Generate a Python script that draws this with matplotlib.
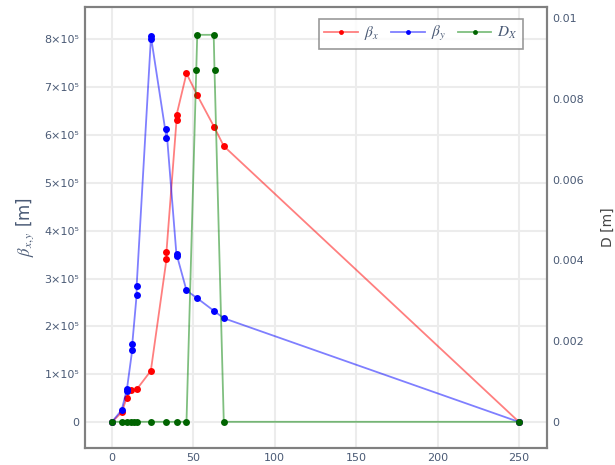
import matplotlib
matplotlib.use("Agg")
from matplotlib import pyplot as plt
from matplotlib.ticker import FuncFormatter

plt.rcParams['mathtext.fontset'] = 'stix'

# position along the line [m]
s_bx = [0, 6.0, 9.0, 12.0, 15.2, 23.9, 33.5, 33.5, 39.7, 39.7, 45.8, 52.3, 62.8, 68.7, 250]
beta_x = [0, 20000, 50000, 67000, 68000, 107000, 340000, 356000, 632000, 642000,
          729000, 684000, 617000, 577000, 0]

s_by = [0, 6.0, 9.0, 9.2, 12.5, 12.5, 15.2, 15.2, 23.9, 23.9, 33.5, 33.5,
        39.7, 39.7, 45.8, 52.3, 62.8, 68.7, 250]
beta_y = [0, 25000, 65500, 68000, 151000, 163000, 266000, 285000, 800000, 808000,
          594000, 612000, 347000, 351000, 275000, 259000, 232000, 217000, 0]

s_d = [0, 6.0, 9.0, 11.5, 13.5, 15.2, 23.9, 33.5, 39.7, 45.8, 51.8, 52.4,
       62.5, 63.0, 68.7, 250]
disp = [0, 0, 0, 0, 0, 0, 0, 0, 0, 0, 0.00872, 0.00959, 0.00959, 0.00872, 0, 0]

txt = '#4a5a75'
fig = plt.figure(figsize=(6.15, 4.65), dpi=100)
ax = fig.add_axes([0.138, 0.037, 0.751, 0.948])
ax2 = ax.twinx()

ax.plot(s_bx, beta_x, color=(1, 0, 0, 0.5), lw=1.3, marker='o', ms=5,
        mfc='red', mew=0, label=r'$\beta_x$')
ax.plot(s_by, beta_y, color=(0, 0, 1, 0.5), lw=1.3, marker='o', ms=5,
        mfc='blue', mew=0, label=r'$\beta_y$')
ax2.plot(s_d, disp, color=(0, 0.5, 0, 0.5), lw=1.3, marker='o', ms=5,
         mfc='darkgreen', mew=0, label=r'$D_X$')

ax.set_xlim(-16.6, 267)
ax.set_ylim(-54000, 868000)
ax2.set_ylim(-0.000644, 0.01028)
ax.set_xticks([0, 50, 100, 150, 200, 250])
ax.set_yticks([i * 100000 for i in range(9)])
ax2.set_yticks([0, 0.002, 0.004, 0.006, 0.008, 0.01])
ax2.set_yticklabels(['0', '0.002', '0.004', '0.006', '0.008', '0.01'])

ax.yaxis.set_major_formatter(FuncFormatter(
    lambda v, p: '0' if v == 0 else '%d×10⁵' % round(v / 1e5)))

ax.grid(True, color='#ececec', lw=1.5)
ax.set_axisbelow(True)
for a in (ax, ax2):
    a.tick_params(length=0, labelsize=8, labelcolor=txt, pad=4)
    for sp in a.spines.values():
        sp.set_color('#808080')
        sp.set_linewidth(1.5)

ax.set_ylabel(r'$\beta_{x,y}$ [m]', fontsize=12, color=txt, labelpad=6)
ax2.set_ylabel('D [m]', fontsize=10, color='#444444', labelpad=12)

h1, l1 = ax.get_legend_handles_labels()
h2, l2 = ax2.get_legend_handles_labels()
leg = ax2.legend(h1 + h2, l1 + l2, loc='upper right', ncol=3, fontsize=11,
                 frameon=True, fancybox=False, edgecolor='#808080',
                 handlelength=2.2, columnspacing=0.8, handletextpad=0.4,
                 markerscale=0.7, bbox_to_anchor=(0.965, 0.99), borderpad=0.35)
leg.get_frame().set_linewidth(1.2)
for t in leg.get_texts():
    t.set_color(txt)

fig.savefig('out.png', dpi=100)
